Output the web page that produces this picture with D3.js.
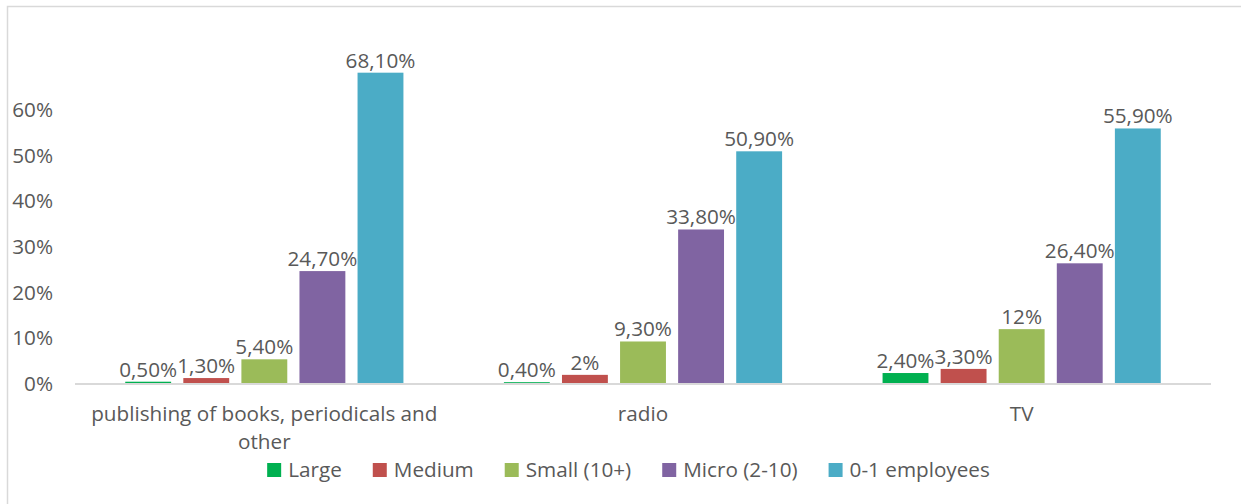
<!DOCTYPE html>
<html>
<head>
<meta charset="utf-8">
<script src="https://cdn.jsdelivr.net/npm/d3@7"></script>
<style>
  html, body { margin: 0; padding: 0; background: #fff; }
  svg { display: block; }
  text { font-family: "Open Sans", Lato, sans-serif; fill: #595959; }
</style>
</head>
<body>
<svg id="chart" width="1241" height="504"></svg>
<script>
// Share of enterprises by size class, per media sector
const categories = ["publishing of books, periodicals and other", "radio", "TV"];
const seriesNames = ["Large", "Medium", "Small (10+)", "Micro (2-10)", "0-1 employees"];
const seriesColors = ["#00b050", "#c0504d", "#9bbb59", "#8064a2", "#4bacc6"];
const large = [0.5, 0.4, 2.4];
const medium = [1.3, 2.0, 3.3];
const small = [5.4, 9.3, 12.0];
const micro = [24.7, 33.8, 26.4];
const zeroOne = [68.1, 50.9, 55.9];
const yTicks = [0, 10, 20, 30, 40, 50, 60];

const seriesValues = [large, medium, small, micro, zeroOne];
const FONT = 20.7;

const svg = d3.select("#chart");

// Chart-area frame (left and top edges visible)
svg.append("rect")
  .attr("x", 7.5).attr("y", 6.5)
  .attr("width", 1400).attr("height", 600)
  .attr("fill", "none").attr("stroke", "#d9d9d9").attr("stroke-width", 1.5);

const plot = { left: 75, right: 1211, top: 64, bottom: 384 };

const x0 = d3.scaleBand().domain(categories).range([plot.left, plot.right]).padding(0);
const x1 = d3.scaleBand().domain(seriesNames).range([0, x0.bandwidth()])
  .paddingInner(0.21).paddingOuter(0.865);
const y = d3.scaleLinear().domain([0, 70]).range([plot.bottom, plot.top]);

const fmt = v => (Number.isInteger(v) ? String(v) : v.toFixed(2).replace(".", ",")) + "%";

// Y axis labels
const yAxis = d3.axisLeft(y).tickValues(yTicks).tickSize(0).tickPadding(0)
  .tickFormat(d => d + "%");
const yG = svg.append("g").attr("transform", `translate(53,0)`).call(yAxis);
yG.select(".domain").remove();
yG.selectAll("text").attr("font-size", FONT).style("font-family", "'Open Sans', Lato, sans-serif")
  .attr("fill", "#595959");

// Baseline
svg.append("line")
  .attr("x1", plot.left).attr("x2", plot.right)
  .attr("y1", y(0)).attr("y2", y(0))
  .attr("stroke", "#d9d9d9").attr("stroke-width", 2);

// Bars
const groups = svg.append("g").selectAll("g")
  .data(categories)
  .join("g")
  .attr("transform", d => `translate(${x0(d)},0)`);

groups.each(function(cat, ci) {
  const g = d3.select(this);
  seriesNames.forEach((s, si) => {
    const v = seriesValues[si][ci];
    g.append("rect")
      .attr("x", x1(s))
      .attr("y", y(v))
      .attr("width", x1.bandwidth())
      .attr("height", y(0) - y(v) - 1)
      .attr("fill", seriesColors[si]);
    g.append("text")
      .attr("x", x1(s) + x1.bandwidth() / 2)
      .attr("y", y(v) - 5)
      .attr("text-anchor", "middle")
      .attr("font-size", FONT)
      .attr("fill", "#404040")
      .text(fmt(v));
  });
});

// Category labels (wrapped to two lines where needed)
const catLines = {
  "publishing of books, periodicals and other": ["publishing of books, periodicals and", "other"],
  "radio": ["radio"],
  "TV": ["TV"]
};
categories.forEach(c => {
  const t = svg.append("text")
    .attr("x", x0(c) + x0.bandwidth() / 2)
    .attr("y", 421)
    .attr("text-anchor", "middle")
    .attr("font-size", FONT);
  catLines[c].forEach((line, i) => {
    t.append("tspan")
      .attr("x", x0(c) + x0.bandwidth() / 2)
      .attr("dy", i === 0 ? 0 : 28)
      .text(line);
  });
});

// Legend
const legend = svg.append("g");
const items = [];
seriesNames.forEach((s, i) => {
  const item = legend.append("g");
  item.append("rect").attr("x", 0).attr("y", -7).attr("width", 14).attr("height", 14)
    .attr("fill", seriesColors[i]);
  const txt = item.append("text").attr("x", 21).attr("y", 7).attr("font-size", FONT).text(s);
  const w = 21 + txt.node().getComputedTextLength();
  items.push({ item, w });
});
const gap = 31;
const total = d3.sum(items, d => d.w) + gap * (items.length - 1);
let pos = 628.5 - total / 2;
items.forEach(d => {
  d.item.attr("transform", `translate(${pos},470)`);
  pos += d.w + gap;
});
</script>
</body>
</html>
